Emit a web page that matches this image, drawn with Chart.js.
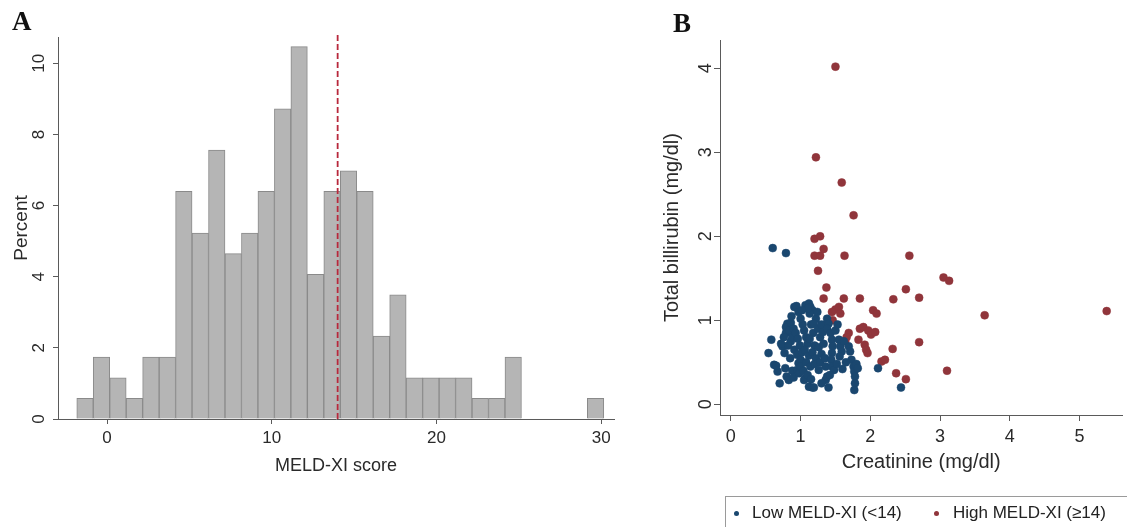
<!DOCTYPE html>
<html>
<head>
<meta charset="utf-8">
<title>MELD-XI</title>
<script src="https://cdn.jsdelivr.net/npm/chart.js@4.4.1/dist/chart.umd.min.js"></script>
<style>
  html, body { margin: 0; padding: 0; background: #fff; }
  body {
    width: 1127px; height: 527px; position: relative; overflow: hidden;
    font-family: "Liberation Sans", Arial, sans-serif;
  }
  canvas { position: absolute; top: 0; }
  #histA { left: 0; }
  #scatterB { left: 640px; }
  .tag {
    position: absolute; line-height: 1;
    font-family: "Liberation Serif", "Times New Roman", serif;
    font-weight: bold; font-size: 27px; color: #111;
  }
  #legendB {
    position: absolute; left: 725px; top: 496px; width: 405px; height: 40px;
    border: 1px solid #9a9a9a; box-sizing: border-box;
    font-size: 17px; color: #222;
  }
  #legendB .dot { position: absolute; width: 5px; height: 5px; border-radius: 50%; top: 14px; }
  #legendB .lbl { position: absolute; top: 6px; line-height: 20px; white-space: nowrap; }
</style>
</head>
<body>
<canvas id="histA" width="640" height="527"></canvas>
<canvas id="scatterB" width="487" height="527"></canvas>
<div class="tag" style="left:12px; top:8px;">A</div>
<div class="tag" style="left:673px; top:10px;">B</div>
<div id="legendB"></div>

<script>
// Panel A: histogram of MELD-XI scores (bin width 1)
const meldBinMid = [
  -1.34, -0.34, 0.66, 1.66, 2.66, 3.66, 4.66, 5.66, 6.66, 7.66,
  8.66, 9.66, 10.66, 11.66, 12.66, 13.66, 14.66, 15.66, 16.66, 17.66,
  18.66, 19.66, 20.66, 21.66, 22.66, 23.66, 24.66, 29.66,
];
const meldPct = [
  0.58, 1.74, 1.16, 0.58, 1.74, 1.74, 6.40, 5.23, 7.56, 4.65,
  5.23, 6.40, 8.72, 10.47, 4.07, 6.40, 6.98, 6.40, 2.33, 3.49,
  1.16, 1.16, 1.16, 1.16, 0.58, 0.58, 1.74, 0.58,
];
const meldCutoff = 14;
const meldTicks = [0, 10, 20, 30];
const pctTicks = [0, 2, 4, 6, 8, 10];

// Panel B: creatinine vs total bilirubin, [creatinine, bilirubin]
const lowMeld = [
  [0.60, 1.86], [0.79, 1.80], [2.11, 0.43], [2.44, 0.20],
  [0.54, 0.61], [0.58, 0.77], [0.62, 0.47], [0.67, 0.39], [0.70, 0.25], [0.65, 0.46],
  [0.74, 0.69], [0.77, 0.61], [0.78, 0.43], [0.80, 0.33], [0.83, 0.29], [0.79, 0.85],
  [0.81, 0.96], [0.79, 0.92], [0.84, 0.88], [0.86, 0.75], [0.88, 0.80], [0.91, 1.16],
  [0.94, 1.17], [0.76, 0.80], [0.82, 0.70], [0.85, 0.55], [0.88, 0.40], [0.90, 0.32],
  [0.86, 0.97], [0.90, 0.90], [0.91, 0.65], [0.95, 0.59], [0.97, 0.49], [1.00, 0.53],
  [0.95, 0.41], [0.98, 0.37], [1.00, 0.45], [0.93, 0.85], [0.96, 0.78], [0.99, 0.70],
  [1.02, 0.62], [1.03, 0.95], [1.00, 1.02], [0.97, 1.10], [1.05, 0.29], [1.07, 0.31],
  [1.12, 0.21], [1.17, 0.20], [1.19, 0.20], [1.07, 1.18], [1.12, 1.20], [1.14, 1.16],
  [1.17, 1.12], [1.13, 1.08], [1.10, 1.14], [1.05, 0.88], [1.08, 0.80], [1.10, 0.72],
  [1.06, 0.65], [1.12, 0.58], [1.08, 0.50], [1.14, 0.45], [1.04, 0.40], [1.10, 0.35],
  [1.15, 0.95], [1.18, 0.85], [1.13, 0.78], [1.20, 0.70], [1.17, 0.62], [1.22, 0.55],
  [1.20, 0.48], [1.15, 0.30], [1.22, 1.02], [1.19, 0.96], [1.26, 0.41], [1.25, 0.90],
  [1.28, 0.80], [1.26, 0.68], [1.30, 0.60], [1.28, 0.50], [1.32, 0.86], [1.30, 0.95],
  [1.33, 0.72], [1.36, 0.29], [1.38, 0.33], [1.38, 1.02], [1.40, 0.96], [1.38, 0.90],
  [1.35, 0.55], [1.36, 0.45], [1.43, 0.85], [1.45, 0.77], [1.46, 0.69], [1.45, 0.61],
  [1.44, 0.53], [1.45, 0.45], [1.48, 0.41], [1.42, 0.35], [1.55, 0.77], [1.57, 0.69],
  [1.59, 0.63], [1.56, 0.57], [1.52, 0.48], [1.50, 0.88], [1.53, 0.95], [1.69, 0.69],
  [1.71, 0.63], [1.73, 0.53], [1.76, 0.45], [1.62, 0.75], [1.65, 0.50], [1.60, 0.42],
  [1.77, 0.39], [1.78, 0.33], [1.78, 0.25], [1.77, 0.17], [1.80, 0.48], [1.82, 0.43],
  [0.72, 0.72], [0.87, 1.05], [1.02, 1.12], [1.24, 1.10], [1.40, 0.20], [1.30, 0.25],
];
const highMeld = [
  [1.50, 4.02], [1.22, 2.94], [1.59, 2.64], [1.76, 2.25], [1.20, 1.97], [1.28, 2.00],
  [1.33, 1.85], [1.20, 1.77], [1.28, 1.77], [1.63, 1.77], [2.56, 1.77], [1.25, 1.59],
  [3.05, 1.51], [3.13, 1.47], [1.37, 1.39], [2.51, 1.37], [1.33, 1.26], [1.62, 1.26],
  [1.85, 1.26], [2.33, 1.25], [2.70, 1.27], [1.50, 1.13], [1.55, 1.16], [1.45, 1.10],
  [1.57, 1.08], [1.46, 1.00], [2.04, 1.12], [2.09, 1.08], [3.64, 1.06], [5.39, 1.11],
  [1.69, 0.85], [1.66, 0.80], [1.64, 0.75], [1.85, 0.90], [1.90, 0.92], [1.97, 0.88],
  [2.01, 0.83], [2.07, 0.86], [1.83, 0.77], [1.92, 0.71], [1.94, 0.65], [1.96, 0.61],
  [2.70, 0.74], [2.32, 0.66], [2.16, 0.51], [2.21, 0.53], [2.37, 0.37], [2.51, 0.30],
  [3.10, 0.40],
];
const groupLabels = ["Low MELD-XI (<14)", "High MELD-XI (\u226514)"];
const groupColors = ["rgb(26,71,111)", "rgb(144,53,59)"];

Chart.defaults.font.family = '"Liberation Sans", Arial, sans-serif';
Chart.defaults.color = "#2a2a2a";
Chart.defaults.animation = false;

const axisGray = "#5a5a5a";

// Stata-style axis: line + outward ticks, no gridlines
function stataAxis(tickLength, extra) {
  return Object.assign(
    {
      grid: {
        display: true, offset: false, drawOnChartArea: false,
        drawTicks: true, tickLength, color: axisGray,
      },
      border: { display: true, color: axisGray, width: 1 },
    },
    extra
  );
}

// dashed vertical line at the cutoff, drawn over the bars
const cutoffLine = {
  id: "cutoffLine",
  afterDatasetsDraw(chart) {
    const { ctx, chartArea, scales } = chart;
    const x = scales.x.getPixelForValue(meldCutoff);
    ctx.save();
    ctx.strokeStyle = "#b8283c";
    ctx.lineWidth = 1.8;
    ctx.setLineDash([6, 3]);
    ctx.beginPath();
    ctx.moveTo(x, chartArea.top - 2);
    ctx.lineTo(x, chartArea.bottom);
    ctx.stroke();
    ctx.restore();
  },
};

new Chart(document.getElementById("histA"), {
  type: "bar",
  data: {
    datasets: [
      {
        data: meldBinMid.map((x, i) => ({ x, y: meldPct[i] })),
        backgroundColor: "#b5b5b5",
        borderColor: "#8a8a8a",
        borderWidth: 1,
        barPercentage: 1,
        categoryPercentage: 1,
      },
    ],
  },
  options: {
    responsive: false,
    layout: { padding: { top: 37, right: 26, bottom: 50, left: 0 } },
    plugins: { legend: { display: false }, tooltip: { enabled: false } },
    scales: {
      x: stataAxis(5, {
        type: "linear",
        offset: false,
        min: -2.98,
        max: 30.78,
        afterBuildTicks: (s) => { s.ticks = meldTicks.map((v) => ({ value: v })); },
        ticks: { font: { size: 17 }, padding: 4, maxRotation: 0 },
        title: { display: true, text: "MELD-XI score", font: { size: 18 }, padding: { top: 0, bottom: 0 } },
        afterFit: (s) => { s.height = 58; },
      }),
      y: stataAxis(5, {
        min: 0,
        max: 10.74,
        afterBuildTicks: (s) => { s.ticks = pctTicks.map((v) => ({ value: v })); },
        ticks: { font: { size: 17 }, padding: 4.5, minRotation: 90, maxRotation: 90, crossAlign: "center" },
        title: { display: true, text: "Percent", font: { size: 19 }, padding: { top: 10, bottom: 0 } },
        afterFit: (s) => { s.width = 58; },
      }),
    },
  },
  plugins: [cutoffLine],
});

const toPts = (arr) => arr.map(([x, y]) => ({ x, y }));

new Chart(document.getElementById("scatterB"), {
  type: "scatter",
  data: {
    datasets: [lowMeld, highMeld].map((arr, i) => ({
      label: groupLabels[i],
      data: toPts(arr),
      backgroundColor: groupColors[i],
      borderColor: groupColors[i],
      borderWidth: 0.5,
      pointRadius: 4,
    })),
  },
  options: {
    responsive: false,
    layout: { padding: { top: 40, right: 0, bottom: 53, left: 0 } },
    plugins: { legend: { display: false }, tooltip: { enabled: false } },
    scales: {
      x: stataAxis(6, {
        min: -0.156,
        max: 5.617,
        ticks: { stepSize: 1, font: { size: 18 }, padding: 5, maxRotation: 0, includeBounds: false },
        title: { display: true, text: "Creatinine (mg/dl)", font: { size: 20 }, padding: { top: 0, bottom: 0 } },
        afterFit: (s) => { s.height = 59; },
      }),
      y: stataAxis(6, {
        min: -0.127,
        max: 4.337,
        ticks: { stepSize: 1, font: { size: 18 }, padding: 3, minRotation: 90, maxRotation: 90, crossAlign: "center", includeBounds: false },
        title: { display: true, text: "Total billirubin (mg/dl)", font: { size: 20 }, padding: { top: 20, bottom: 0 } },
        afterFit: (s) => { s.width = 80; },
      }),
    },
  },
});

// legend box under panel B
const legendEl = document.getElementById("legendB");
const legendPos = [{ dot: 8, text: 26 }, { dot: 208, text: 227 }];
groupLabels.forEach((label, i) => {
  const dot = document.createElement("span");
  dot.className = "dot";
  dot.style.left = legendPos[i].dot + "px";
  dot.style.background = groupColors[i];
  const txt = document.createElement("span");
  txt.className = "lbl";
  txt.style.left = legendPos[i].text + "px";
  txt.textContent = label;
  legendEl.appendChild(dot);
  legendEl.appendChild(txt);
});
</script>
</body>
</html>
